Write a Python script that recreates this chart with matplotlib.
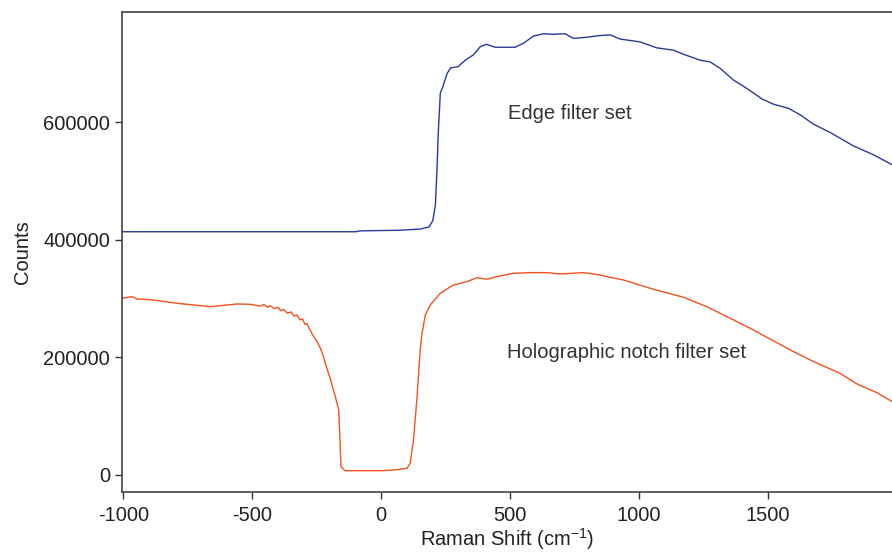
import matplotlib
matplotlib.use('Agg')
import matplotlib.pyplot as plt

# Espectros: contagens vs. deslocamento Raman
edge_x = [-1005, -500, -100, -80, 70, 150, 185, 200, 210, 216, 221, 229, 238,
          256, 270, 298, 326, 357, 384, 407, 442, 519, 552, 590, 629, 668,
          713, 745, 797, 849, 888, 926, 1004, 1068, 1133, 1172, 1236, 1275,
          1314, 1366, 1417, 1476, 1521, 1579, 1624, 1676, 1740, 1831, 1908, 1981]
edge_y = [414000, 414000, 414000, 415500, 416500, 418500, 422000, 433000,
          460000, 520000, 582000, 650000, 660000, 684000, 693000, 695000,
          706000, 715000, 729000, 733000, 728000, 728000, 735000, 747000,
          751000, 750000, 751000, 743000, 745000, 748000, 749000, 742000,
          737000, 727000, 723000, 716000, 706000, 703000, 692000, 672000,
          658000, 640000, 631000, 624000, 613000, 597000, 583000, 560000,
          545000, 528000]

notch_x = [-1005, -966, -947, -882, -792, -663, -559, -508, -470, -455, -440,
           -430, -415, -400, -390, -379, -365, -350, -338, -327, -315, -305,
           -296, -288, -275, -262, -250, -236, -225, -217, -198, -178, -165,
           -161, -156, -140, 9, 61, 100, 112, 125, 138, 151, 158, 171, 190,
           229, 280, 332, 371, 410, 448, 513, 578, 642, 694, 784, 849, 875,
           939, 1055, 1172, 1262, 1366, 1443, 1521, 1598, 1676, 1779, 1844,
           1921, 1981]
notch_y = [300700, 303500, 299600, 297800, 292200, 286500, 291000, 290500,
           287500, 290000, 285500, 288000, 283000, 285500, 279500, 282000,
           275500, 277500, 270500, 272500, 264000, 265500, 256500, 257500,
           246000, 235400, 228000, 215600, 203000, 190100, 164600, 133300,
           110600, 71000, 14100, 7300, 7300, 9000, 11400, 19900, 59600,
           127600, 212800, 241200, 272300, 289300, 309300, 323400, 329000,
           335800, 333100, 337500, 343300, 344400, 344400, 342100, 344400,
           340400, 337500, 331900, 316100, 302400, 286500, 263800, 246800,
           228100, 209900, 192900, 173100, 154900, 140100, 124800]

xticks = [-1000, -500, 0, 500, 1000, 1500]
yticks = [0, 200000, 400000, 600000]

plt.rcParams['font.family'] = ['Liberation Sans', 'DejaVu Sans']
plt.rcParams['font.size'] = 14.5
plt.rcParams['mathtext.default'] = 'regular'

fig = plt.figure(figsize=(8.92, 5.57), dpi=100)
ax = fig.add_axes([122/892, 65/557, 770/892, 480/557])

ax.plot(edge_x, edge_y, color='#2b3a9a', linewidth=1.0)
ax.plot(notch_x, notch_y, color='#f4511e', linewidth=1.0)

ax.set_xlim(-1005, 1980)
ax.set_ylim(-29000, 788000)
ax.set_xticks(xticks)
ax.set_xticklabels([str(v) for v in xticks])
ax.set_yticks(yticks)
ax.set_yticklabels([str(v) for v in yticks])

ax.tick_params(axis='both', direction='out', length=5, width=1,
               colors='#333333', labelcolor='#222222')
ax.tick_params(axis='x', pad=5)
ax.tick_params(axis='y', pad=3.5)

ax.spines['right'].set_visible(False)
for s in ['left', 'top', 'bottom']:
    ax.spines[s].set_color('#444444')
    ax.spines[s].set_linewidth(1.2)

ax.set_xlabel('Raman Shift (cm$^{\u2010 1}$)'.replace('\u2010 ', '-'),
              color='#222222', labelpad=1)
ax.set_ylabel('Counts', color='#222222', labelpad=8)

ax.text(492, 616000, 'Edge filter set', va='center', ha='left', color='#333333')
ax.text(488, 209000, 'Holographic notch filter set', va='center', ha='left',
        color='#333333')

fig.savefig('out.png', dpi=100)
